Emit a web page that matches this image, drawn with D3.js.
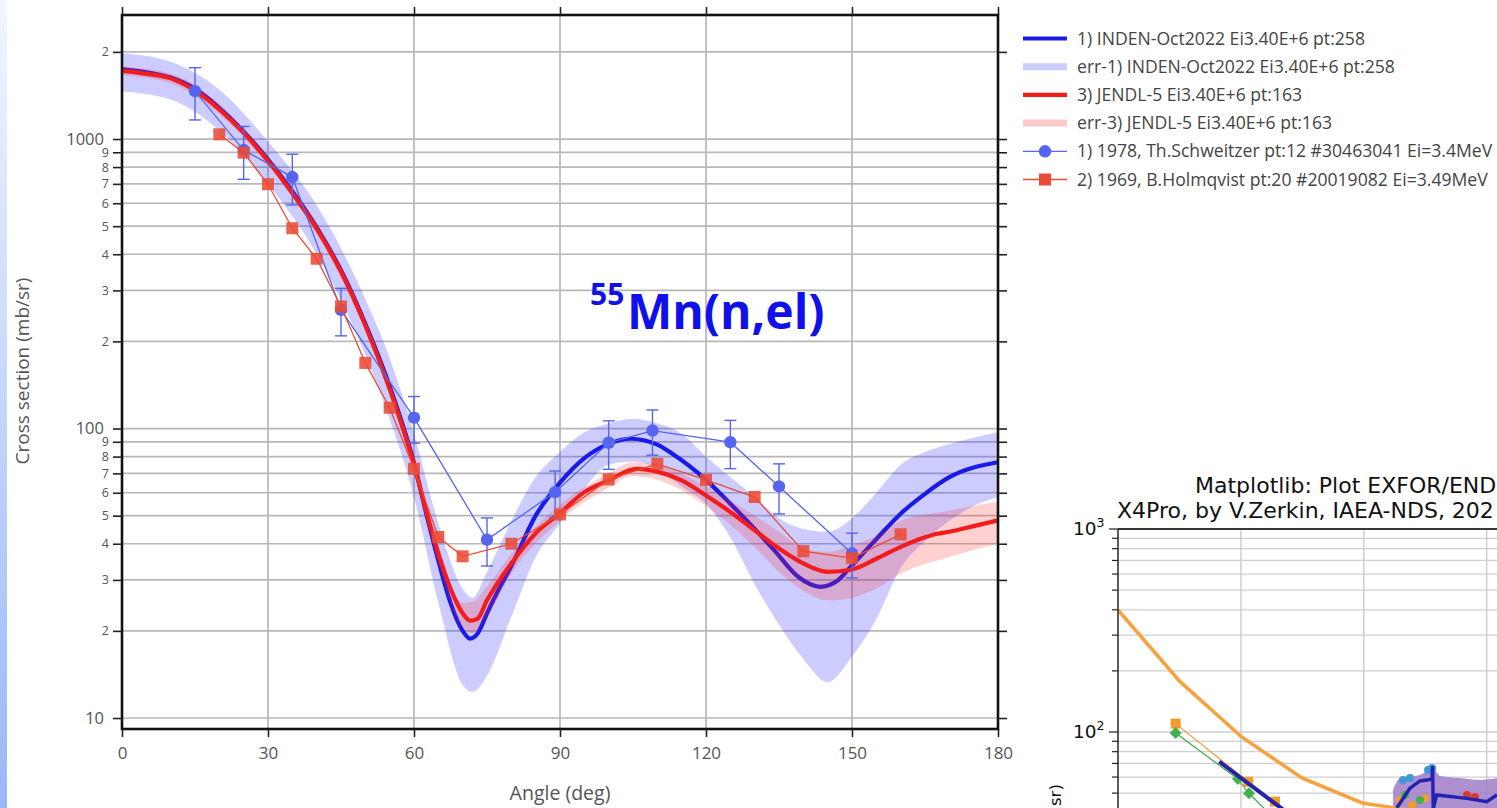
<!DOCTYPE html>
<html><head><meta charset="utf-8">
<script src="https://cdn.jsdelivr.net/npm/d3@7"></script>
<style>html,body{margin:0;padding:0;background:#fff;overflow:hidden} svg{display:block}</style>
</head><body><svg id="c" width="1497" height="808"></svg>
<script>
// ---------- main chart data ----------
const xTicks = [0, 30, 60, 90, 120, 150, 180];
const yTicks = [10,20,30,40,50,60,70,80,90,100,200,300,400,500,600,700,800,900,1000,2000];
const yTickLabels = ["10","2","3","4","5","6","7","8","9","100","2","3","4","5","6","7","8","9","1000","2"];

const indenAngle = [0,5,10,15,20,25,30,35,40,45,50,55,60,62.5,65,67.5,70,71.5,73,75,77.5,80,85,90,95,100,104.5,110,113,120,125,130,134,139,143.5,147,150,155,160,165,170,180];
const indenXS    = [1740,1700,1630,1490,1280,1060,850,660,495,352,230,140,76,51,35,25,20,18.8,19.5,23,28,33.5,50,65,79,88.5,92.2,88,82,66.5,55,45,38,30.7,28.4,29.8,33.7,41.5,50.8,59.5,67.9,76.5];
const indenBandAngle = [0,10,20,30,40,50,55,60,65,70,72,75,80,85,90,95,100,105,110,115,120,125,130,135,140,145,150,155,160,165,170,175,180];
const indenLo = [1460,1370,1070,700,400,180,108,58,25,13,12.3,14,22.4,36,47,62,75,77,73,63,55,42,29,21,16,13.3,16.3,22,33,41,48,54,58];
const indenHi = [1980,1850,1480,980,590,280,175,96,47,28,26,32,48,68,83,97,104,108,104,96,80,68,58,49,45,44,49,60,75,83,88.5,93,97];

const jendlAngle = [0,5,10,15,20,25,30,35,40,45,50,55,60,62.5,65,67.5,70,71.5,73,75,80,85,90,95,100,105.7,110,115,120,125,130,135,140,145,150,155,160,165,167.5,170,175,180];
const jendlXS    = [1720,1680,1620,1470,1265,1050,840,650,490,348,227,137,75,52,37,28,23,21.7,22,25.5,34.2,43.5,51,60.3,66.2,72.6,71,66.2,58.7,51.5,44.5,38.5,34.2,32,32.6,35.5,39,42.1,43.3,44,46,48.2];
const jendlBandAngle = [0,10,20,30,40,50,55,60,65,70,72,75,80,90,100,105,110,120,130,135,140,145,150,155,160,170,180];
const jendlLo = [1660,1560,1220,810,470,218,131,70,34,20.5,19.6,22.5,31.5,48,62.5,68.5,66.5,54,39,32,27.5,25.5,26,28,31.5,36,40];
const jendlHi = [1780,1680,1320,870,510,236,143,80,40,25,25.2,28.5,37,54.5,70,76.5,75,63,50,44,38.5,37.5,39.5,42.5,48,52,56];

const schAngle = [15,25,35,45,60,75,89,100,109,125,135,150];
const schXS    = [1464,916,739,257,109,41.3,60.3,89.3,98.4,89.7,63.1,37];
const schErr   = [300,190,147,48,20,7.8,11,17,17.5,17,12.4,6.5];

const holAngle = [20,25,30,35,40,45,50,55,60,65,70,80,90,100,110,120,130,140,150,160];
const holXS    = [1038,897,698,492,386,264,168.5,118,72.6,42.2,36.2,40,50.5,66.7,75.5,66.5,58,37.7,35.7,43.1];

const legendLabels = [
  "1) INDEN-Oct2022 Ei3.40E+6 pt:258",
  "err-1) INDEN-Oct2022 Ei3.40E+6 pt:258",
  "3) JENDL-5 Ei3.40E+6 pt:163",
  "err-3) JENDL-5 Ei3.40E+6 pt:163",
  "1) 1978, Th.Schweitzer pt:12 #30463041 Ei=3.4MeV",
  "2) 1969, B.Holmqvist pt:20 #20019082 Ei=3.49MeV"
];

// ---------- inset (matplotlib screenshot) data ----------
const inYTicks = [50,60,70,80,90,100,200,300,400,500,600,700,800,900,1000];
const inXTicks = [1,2,3];
const inOrangeX = [0,0.505,1.004,1.5,1.993,2.19,2.6];
const inOrangeY = [399,177,94.8,59.2,44.6,42.9,39];
const inSqX = [0.469,1.06,1.277,1.5];
const inSqY = [110,56.9,45.4,36];
const inDiaX = [0.469,0.976,1.066,1.3];
const inDiaY = [98.9,58.6,49.9,36];
const inNavyX = [0.824,1.325,1.6];
const inNavyY = [71.4,42.3,30];
const inPurpX = [2.238,2.295,2.457,2.563,2.62,2.783,2.945,3.084];
const inPurpHi = [51.8,59.3,61.4,66.5,60.7,59.3,58,59.3];
const inPurpLo = [38,38,38,38,38,38,38,38];
const inNavy2X = [2.268,2.376,2.457,2.555,2.56,2.565,2.593,2.837,3.0,3.084];
const inNavy2Y = [42.2,52.9,57.4,58.6,68,42,49,47.1,45.4,49];
const inTealX = [2.319,2.376,2.523,2.555]; const inTealY = [58.0,59.3,64.9,66.5];
const inOrgDotX = [2.295,2.392,2.498]; const inOrgDotY = [46.2,43.7,47.3];
const inRedDotX = [2.84,2.905]; const inRedDotY = [49,47.9];
const inGrnDotX = [2.335,2.457]; const inGrnDotY = [49,46.2];
const inTitle1 = "Matplotlib: Plot EXFOR/END";
const inTitle2 = "X4Pro, by V.Zerkin, IAEA-NDS, 202";
const inYLabel = "sr)";

// ---------- drawing ----------
const svg = d3.select('#c');
const W = 1497, H = 808;
const L = 122, R = 998, T = 15, B = 729;
const FONT = "'Open Sans', 'Noto Sans', sans-serif";

// left blue strip
const defs = svg.append('defs');
const grad = defs.append('linearGradient').attr('id','lg').attr('x1',0).attr('y1',0).attr('x2',0).attr('y2',1);
grad.append('stop').attr('offset','0%').attr('stop-color','#f1f5ff');
grad.append('stop').attr('offset','100%').attr('stop-color','#97b8f6');
svg.append('rect').attr('x',0).attr('y',0).attr('width',7).attr('height',H).attr('fill','url(#lg)');

defs.append('clipPath').attr('id','plotclip').append('rect').attr('x',L).attr('y',T).attr('width',R-L).attr('height',B-T);

const x = d3.scaleLinear().domain([0,180]).range([L,R]);
const y = d3.scaleLog().domain([9.164,2682]).range([B,T]);

// grid
const grid = svg.append('g');
grid.selectAll('line.h').data(yTicks).join('line')
  .attr('x1',L).attr('x2',R).attr('y1',d=>y(d)).attr('y2',d=>y(d))
  .attr('stroke','#b8b8b8').attr('stroke-width',1.7);
grid.selectAll('line.v').data(xTicks.slice(1,-1)).join('line')
  .attr('y1',T).attr('y2',B).attr('x1',d=>x(d)).attr('x2',d=>x(d))
  .attr('stroke','#b8b8b8').attr('stroke-width',1.7);

const plot = svg.append('g').attr('clip-path','url(#plotclip)');
const zip = (a,b)=>a.map((v,i)=>[v,b[i]]);
const line = d3.line().x(d=>x(d[0])).y(d=>y(d[1])).curve(d3.curveMonotoneX);
const area = d3.area().x(d=>x(d[0])).y0(d=>y(d[1])).y1(d=>y(d[2])).curve(d3.curveMonotoneX);

// INDEN band + line
plot.append('path').datum(indenBandAngle.map((a,i)=>[a,indenLo[i],indenHi[i]]))
  .attr('d',area).attr('fill','rgba(40,40,255,0.24)');
plot.append('path').datum(zip(indenAngle,indenXS)).attr('d',line)
  .attr('fill','none').attr('stroke','#1a1ae8').attr('stroke-width',4.2);
// JENDL band + line
plot.append('path').datum(jendlBandAngle.map((a,i)=>[a,jendlLo[i],jendlHi[i]]))
  .attr('d',area).attr('fill','rgba(255,40,40,0.22)');
plot.append('path').datum(zip(jendlAngle,jendlXS)).attr('d',line)
  .attr('fill','none').attr('stroke','#f21c1c').attr('stroke-width',4.2);

// experimental data
const lin = d3.line().x(d=>x(d[0])).y(d=>y(d[1]));
const schC = '#5565ef', holC = '#ea4b35';
plot.append('path').datum(zip(schAngle,schXS)).attr('d',lin)
  .attr('fill','none').attr('stroke',schC).attr('stroke-width',1.3);
const eb = plot.append('g').attr('stroke',schC).attr('stroke-width',1.4);
schAngle.forEach((a,i)=>{
  const yt = y(schXS[i]+schErr[i]), yb = y(schXS[i]-schErr[i]), xc = x(a);
  eb.append('line').attr('x1',xc).attr('x2',xc).attr('y1',yt).attr('y2',yb);
  eb.append('line').attr('x1',xc-6).attr('x2',xc+6).attr('y1',yt).attr('y2',yt);
  eb.append('line').attr('x1',xc-6).attr('x2',xc+6).attr('y1',yb).attr('y2',yb);
});
plot.append('g').selectAll('circle').data(zip(schAngle,schXS)).join('circle')
  .attr('cx',d=>x(d[0])).attr('cy',d=>y(d[1])).attr('r',6.2).attr('fill',schC);

plot.append('path').datum(zip(holAngle,holXS)).attr('d',lin)
  .attr('fill','none').attr('stroke',holC).attr('stroke-width',1.3);
plot.append('g').selectAll('rect').data(zip(holAngle,holXS)).join('rect')
  .attr('x',d=>x(d[0])-6).attr('y',d=>y(d[1])-6).attr('width',12).attr('height',12)
  .attr('fill',holC).attr('opacity',0.88);

// frame
svg.append('rect').attr('x',L).attr('y',T).attr('width',R-L).attr('height',B-T)
  .attr('fill','none').attr('stroke','#111').attr('stroke-width',2.6);

// axes
const txtC = '#555';
const xAx = svg.append('g').attr('transform',`translate(0,${B})`)
  .call(d3.axisBottom(x).tickValues(xTicks).tickSize(8).tickPadding(10).tickFormat(d3.format('d')));
xAx.select('.domain').remove();
xAx.selectAll('line').attr('stroke','#222').attr('stroke-width',1.6);
xAx.selectAll('text').attr('fill',txtC).style('font-family',FONT).style('font-size','17px');

const xTop = svg.append('g').attr('transform',`translate(0,${T})`)
  .call(d3.axisTop(x).tickValues(xTicks).tickSize(8).tickFormat(''));
xTop.select('.domain').remove();
xTop.selectAll('line').attr('stroke','#222').attr('stroke-width',1.6);

const yAx = svg.append('g').attr('transform',`translate(${L},0)`)
  .call(d3.axisLeft(y).tickValues(yTicks).tickSize(9).tickPadding(4).tickFormat((d,i)=>yTickLabels[i]));
yAx.select('.domain').remove();
yAx.selectAll('line').attr('stroke','#222').attr('stroke-width',1.6);
yAx.selectAll('text').attr('fill',txtC).style('font-family',FONT)
  .style('font-size',(d,i)=>yTickLabels[i].length>1 ? '16.5px' : '12.5px')
  .attr('x',(d,i)=>yTickLabels[i].length>1 ? -18 : -13);

const yR = svg.append('g').attr('transform',`translate(${R},0)`)
  .call(d3.axisRight(y).tickValues(yTicks).tickSize(9).tickFormat(''));
yR.select('.domain').remove();
yR.selectAll('line').attr('stroke','#222').attr('stroke-width',1.6);

// axis titles
svg.append('text').attr('x',560).attr('y',800).attr('text-anchor','middle')
  .attr('fill',txtC).style('font-family',FONT).style('font-size','19.5px').text('Angle (deg)');
svg.append('text').attr('transform','translate(29,371) rotate(-90)').attr('text-anchor','middle')
  .attr('fill',txtC).style('font-family',FONT).style('font-size','19px').text('Cross section (mb/sr)');

// reaction title
svg.append('text').attr('x',590).attr('y',305).attr('fill','#1010ea')
  .style('font-family',FONT).style('font-weight','bold').style('font-size','30px').text('55');
svg.append('text').attr('x',627).attr('y',329).attr('fill','#1010ea')
  .style('font-family',FONT).style('font-weight','bold').style('font-size','48px').text('Mn(n,el)');

// legend
const lg = svg.append('g');
const rowY = i => 38.5 + 28.2*i;
const lx0 = 1023, lx1 = 1067;
lg.append('line').attr('x1',lx0).attr('x2',lx1).attr('y1',rowY(0)).attr('y2',rowY(0)).attr('stroke','#1a1ae8').attr('stroke-width',4.2);
lg.append('line').attr('x1',lx0).attr('x2',lx1).attr('y1',rowY(1)).attr('y2',rowY(1)).attr('stroke','rgba(40,40,255,0.24)').attr('stroke-width',7);
lg.append('line').attr('x1',lx0).attr('x2',lx1).attr('y1',rowY(2)).attr('y2',rowY(2)).attr('stroke','#f21c1c').attr('stroke-width',4.2);
lg.append('line').attr('x1',lx0).attr('x2',lx1).attr('y1',rowY(3)).attr('y2',rowY(3)).attr('stroke','rgba(255,40,40,0.25)').attr('stroke-width',7);
lg.append('line').attr('x1',lx0).attr('x2',lx1).attr('y1',rowY(4)).attr('y2',rowY(4)).attr('stroke',schC).attr('stroke-width',1.3);
lg.append('circle').attr('cx',(lx0+lx1)/2).attr('cy',rowY(4)).attr('r',6.2).attr('fill',schC);
lg.append('line').attr('x1',lx0).attr('x2',lx1).attr('y1',rowY(5)).attr('y2',rowY(5)).attr('stroke',holC).attr('stroke-width',1.3);
lg.append('rect').attr('x',(lx0+lx1)/2-6).attr('y',rowY(5)-6).attr('width',12).attr('height',12).attr('fill',holC);
lg.selectAll('text').data(legendLabels).join('text')
  .attr('x',1077).attr('y',(d,i)=>rowY(i)+6).attr('fill','#444')
  .style('font-family',FONT).style('font-size','17.6px').text(d=>d);

// ---------- inset ----------
const IL = 1118, IT = 529;
const ix = d3.scaleLinear().domain([0,1]).range([IL, IL+122.9]);
const iy = d3.scaleLog().domain([100,1000]).range([732,529]);
defs.append('clipPath').attr('id','inclip').append('rect').attr('x',IL).attr('y',IT).attr('width',W-IL).attr('height',H-IT);
const ins = svg.append('g');
ins.selectAll('line.h').data(inYTicks).join('line')
  .attr('x1',IL).attr('x2',W).attr('y1',d=>iy(d)).attr('y2',d=>iy(d)).attr('stroke','#cfcfcf').attr('stroke-width',1.3);
ins.selectAll('line.v').data(inXTicks).join('line')
  .attr('y1',IT).attr('y2',H).attr('x1',d=>ix(d)).attr('x2',d=>ix(d)).attr('stroke','#c8c8c8').attr('stroke-width',1.3);
const ic = ins.append('g').attr('clip-path','url(#inclip)');
const il = d3.line().x(d=>ix(d[0])).y(d=>iy(d[1]));
ic.append('path').datum(inPurpX.map((v,i)=>[v,inPurpLo[i],inPurpHi[i]]))
  .attr('d',d3.area().x(d=>ix(d[0])).y0(d=>iy(d[1])).y1(d=>iy(d[2])).curve(d3.curveMonotoneX))
  .attr('fill','#a07cc8').attr('opacity',0.85);
ic.append('path').datum(zip(inOrangeX,inOrangeY)).attr('d',il)
  .attr('fill','none').attr('stroke','#f7a23c').attr('stroke-width',3.5);
ic.append('path').datum(zip(inSqX,inSqY)).attr('d',il).attr('fill','none').attr('stroke','#f39a32').attr('stroke-width',1.2);
ic.append('path').datum(zip(inDiaX,inDiaY)).attr('d',il).attr('fill','none').attr('stroke','#3caa4a').attr('stroke-width',1.2);
ic.selectAll('rect.sq').data(zip(inSqX,inSqY)).join('rect')
  .attr('x',d=>ix(d[0])-5).attr('y',d=>iy(d[1])-5).attr('width',10).attr('height',10).attr('fill','#f59a2c');
ic.selectAll('path.dm').data(zip(inDiaX,inDiaY)).join('path')
  .attr('d',d=>{const cx=ix(d[0]),cy=iy(d[1]);return `M${cx},${cy-6}L${cx+6},${cy}L${cx},${cy+6}L${cx-6},${cy}Z`;})
  .attr('fill','#40b050');
ic.append('path').datum(zip(inNavyX,inNavyY)).attr('d',il).attr('fill','none').attr('stroke','#2323a8').attr('stroke-width',4);
const dots = (xs,ys,c)=>ic.append('g').selectAll('circle').data(zip(xs,ys)).join('circle')
  .attr('cx',d=>ix(d[0])).attr('cy',d=>iy(d[1])).attr('r',4).attr('fill',c);
dots(inTealX,inTealY,'#3d9ad6');
dots(inOrgDotX,inOrgDotY,'#f59a2c');
dots(inRedDotX,inRedDotY,'#d43a30');
dots(inGrnDotX,inGrnDotY,'#40b050');
ic.append('path').datum(zip(inNavy2X,inNavy2Y)).attr('d',il).attr('fill','none').attr('stroke','#2323b0').attr('stroke-width',3.5);
// inset spines and ticks
ins.append('line').attr('x1',IL).attr('x2',W).attr('y1',IT).attr('y2',IT).attr('stroke','#000').attr('stroke-width',1.6);
ins.append('line').attr('x1',IL).attr('x2',IL).attr('y1',IT).attr('y2',H).attr('stroke','#333').attr('stroke-width',1.6);
ins.selectAll('line.t').data(inYTicks).join('line')
  .attr('x1',d=>(d===100||d===1000)?IL-9:IL-6).attr('x2',IL).attr('y1',d=>iy(d)).attr('y2',d=>iy(d))
  .attr('stroke','#222').attr('stroke-width',1.2);
const IF = "'DejaVu Sans', sans-serif";
[[1000,'3'],[100,'2']].forEach(([v,e])=>{
  const t = ins.append('text').attr('x',1073).attr('y',iy(v)+6).attr('fill','#111').style('font-family',IF).style('font-size','18.5px');
  t.append('tspan').text('10');
  t.append('tspan').attr('dy',-8).style('font-size','12.5px').text(e);
});
ins.append('text').attr('x',1195).attr('y',493).attr('fill','#111').style('font-family',IF).style('font-size','22px').text(inTitle1);
ins.append('text').attr('x',1117).attr('y',518).attr('fill','#111').style('font-family',IF).style('font-size','22px').text(inTitle2);
ins.append('text').attr('transform','translate(1061,806) rotate(-90)').attr('text-anchor','start')
  .attr('fill','#111').style('font-family',IF).style('font-size','16.5px').text(inYLabel);
</script></body></html>
